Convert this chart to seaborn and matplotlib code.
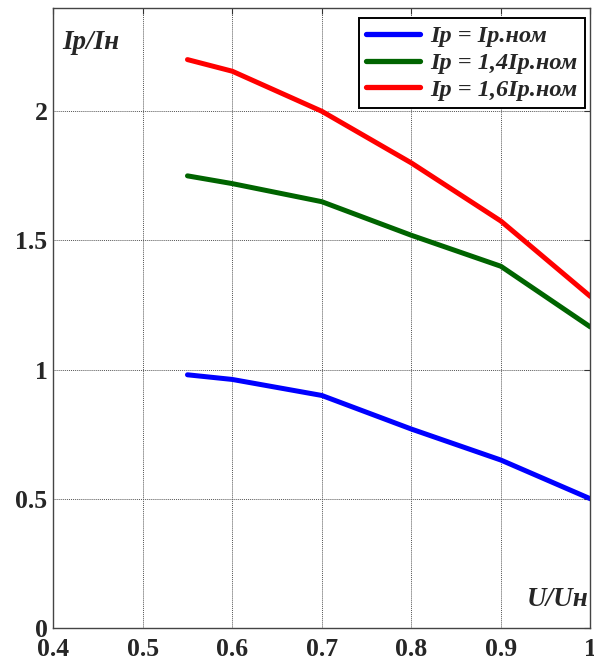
import matplotlib
matplotlib.use("Agg")
import matplotlib.pyplot as plt
import seaborn as sns
import pandas as pd

u_ratio = [0.55, 0.6, 0.7, 0.8, 0.9, 1.0]
i_nom = [0.98, 0.962, 0.90, 0.77, 0.65, 0.50]
i_14 = [1.75, 1.72, 1.65, 1.52, 1.40, 1.165]
i_16 = [2.20, 2.155, 2.00, 1.80, 1.575, 1.283]
series_names = ["Ip = Ip.ном", "Ip = 1,4Ip.ном", "Ip = 1,6Ip.ном"]
x_ticks = [0.4, 0.5, 0.6, 0.7, 0.8, 0.9, 1.0]
x_tick_labels = ["0.4", "0.5", "0.6", "0.7", "0.8", "0.9", "1"]
y_ticks = [0, 0.5, 1, 1.5, 2]
y_tick_labels = ["0", "0.5", "1", "1.5", "2"]

rows = []
for name, vals in zip(series_names, [i_nom, i_14, i_16]):
    for x, y in zip(u_ratio, vals):
        rows.append({"U": x, "I": y, "series": name})
df = pd.DataFrame(rows)

sns.set_style("white")
plt.rcParams["font.family"] = ["Liberation Serif", "DejaVu Serif"]

fig = plt.figure(figsize=(5.94, 6.6), dpi=100)
ax = fig.add_axes([0.0895, 0.0485, 0.9045, 0.9395])

palette = {series_names[0]: "#0000ff", series_names[1]: "#006400", series_names[2]: "#ff0000"}
sns.lineplot(data=df, x="U", y="I", hue="series", palette=palette, linewidth=3.6,
             ax=ax, legend=True)

ax.set_xlim(0.4, 1.0)
ax.set_ylim(0, 2.4)
ax.set_xticks(x_ticks)
ax.set_xticklabels(x_tick_labels)
ax.set_yticks(y_ticks)
ax.set_yticklabels(y_tick_labels)
for lab in ax.get_xticklabels() + ax.get_yticklabels():
    lab.set_fontweight("bold")
    lab.set_fontsize(18.5)
ax.tick_params(axis="both", direction="in", length=4, width=0.8, color="#333333",
               top=True, right=True)
ax.tick_params(axis="y", pad=4)
ax.tick_params(axis="x", pad=7)
ax.grid(True, linestyle=(0, (1, 1)), color="#555555", linewidth=0.7)
for s in ax.spines.values():
    s.set_color("#444444")
    s.set_linewidth(1.0)
ax.set_xlabel("")
ax.set_ylabel("")

ax.text(0.017, 0.965, "Ip/Iн", transform=ax.transAxes, fontsize=19.5,
        fontweight="bold", fontstyle="italic", ha="left", va="top")
ax.text(0.997, 0.025, "U/Uн", transform=ax.transAxes, fontsize=19.5,
        fontweight="bold", fontstyle="italic", ha="right", va="bottom")

leg = ax.legend(loc="upper right", bbox_to_anchor=(0.99, 0.984), fancybox=False,
                frameon=True, edgecolor="black", framealpha=1,
                prop={"size": 17.5, "weight": "bold", "style": "italic"},
                handlelength=2.2, borderpad=0.3, labelspacing=0.2, handletextpad=0.45,
                borderaxespad=0.0)
leg.get_frame().set_linewidth(1.4)
for line in leg.get_lines():
    line.set_linewidth(3.8)

fig.savefig("out.png", dpi=100)
